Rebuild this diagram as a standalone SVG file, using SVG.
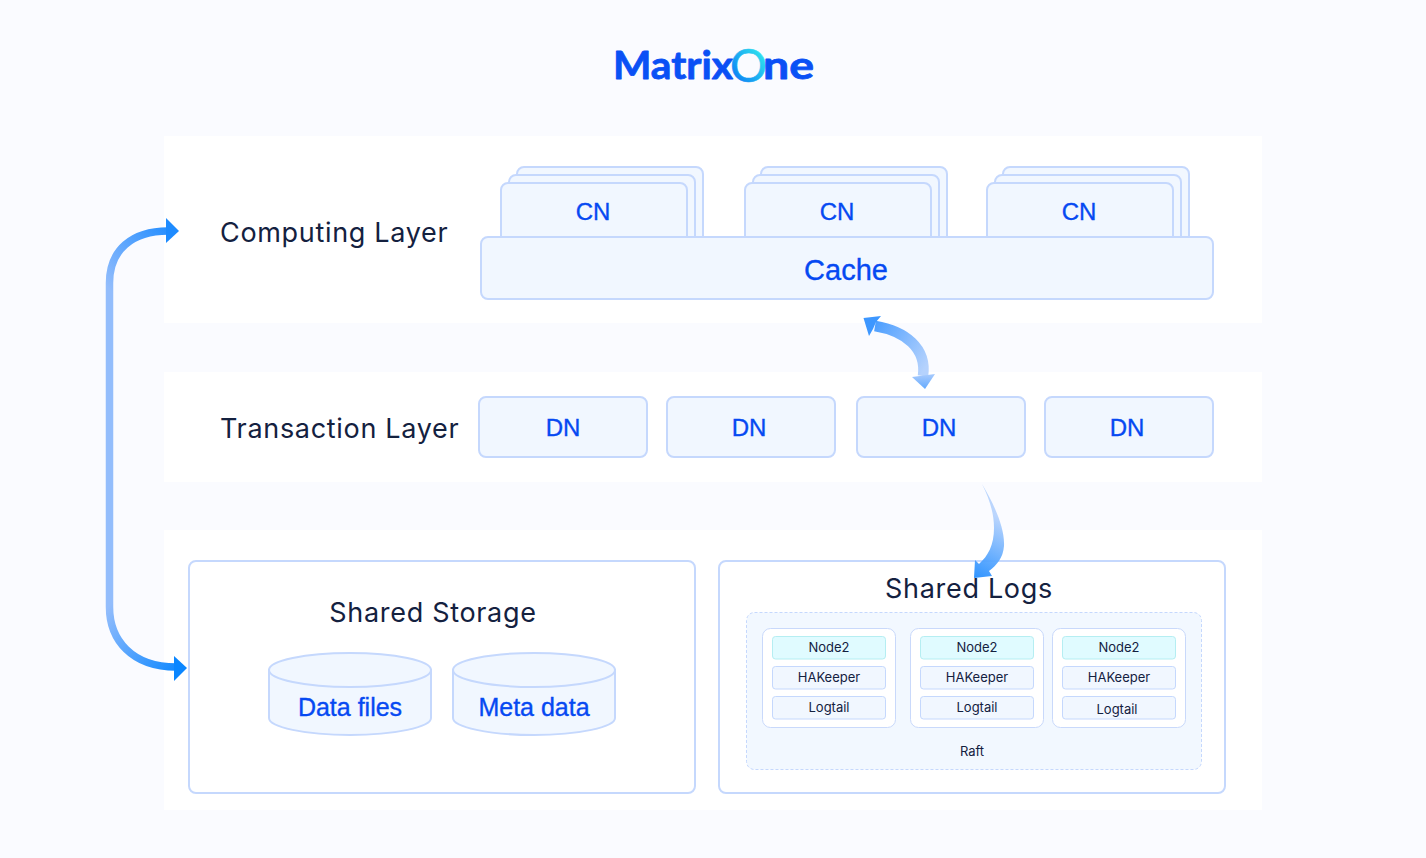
<svg xmlns="http://www.w3.org/2000/svg" width="1426" height="858" viewBox="0 0 1426 858">
<style>
.panel{fill:#fff}
.box{fill:#F1F7FF;stroke:#C5D8FD;stroke-width:2}
.frame{fill:#fff;stroke:#C5D8FD;stroke-width:2}
.card{fill:#fff;stroke:#C9D9FB;stroke-width:1}
.row{fill:#F1F7FF;stroke:#C5D8FD;stroke-width:1}
.cyan{fill:#E0FBFF;stroke:#B5EEF2;stroke-width:1}
.raft{fill:#F2F8FF;stroke:#C5D8FD;stroke-width:1;stroke-dasharray:3 2}
.t{font-family:"Liberation Sans",Arial,sans-serif;fill:#0649F2;stroke:#0649F2;stroke-width:.35px;text-anchor:middle}
.h{font-family:Inter,"Liberation Sans",sans-serif;fill:#14213F;font-size:27px;letter-spacing:.68px}
.s{font-family:Inter,"Liberation Sans",sans-serif;fill:#14213F;font-size:13px;text-anchor:middle}
.logo{font-family:Lato,"Liberation Sans",sans-serif;font-weight:700;font-size:39px;fill:#0A50F5;stroke:#0A50F5;stroke-width:.8;stroke-linejoin:round}
</style>
<defs>
<linearGradient id="lg" gradientUnits="userSpaceOnUse" x1="733" y1="80" x2="765" y2="55"><stop offset="0" stop-color="#0A7CF5"/><stop offset="1" stop-color="#2FE3EE"/></linearGradient>
<linearGradient id="a1" gradientUnits="userSpaceOnUse" x1="110" y1="290" x2="179" y2="231"><stop offset="0" stop-color="#93BDFC"/><stop offset="1" stop-color="#1E8BFF"/></linearGradient>
<linearGradient id="a2" gradientUnits="userSpaceOnUse" x1="110" y1="605" x2="187" y2="668"><stop offset="0" stop-color="#93BDFC"/><stop offset="1" stop-color="#0A86FF"/></linearGradient>
<linearGradient id="a3" gradientUnits="userSpaceOnUse" x1="866" y1="320" x2="930" y2="360"><stop offset="0" stop-color="#3D97FF"/><stop offset="1" stop-color="#B5D2FD"/></linearGradient>
<linearGradient id="a3b" gradientUnits="userSpaceOnUse" x1="924" y1="374" x2="924" y2="390"><stop offset="0" stop-color="#A9CBFD"/><stop offset="1" stop-color="#5FA8FE"/></linearGradient>
<linearGradient id="a4" gradientUnits="userSpaceOnUse" x1="975" y1="578" x2="1004" y2="520"><stop offset="0" stop-color="#1E8BFF"/><stop offset="1" stop-color="#B5D2FD"/></linearGradient>
</defs>
<rect width="1426" height="858" fill="#FAFBFF"/>
<g id="logo">
<text class="logo" x="613" y="79" textLength="120" lengthAdjust="spacingAndGlyphs">Matrix</text>
<text class="logo" x="730" y="82" textLength="37" lengthAdjust="spacingAndGlyphs" style="font-weight:400;font-size:46px;stroke-width:.6;fill:url(#lg);stroke:url(#lg)">O</text>
<text class="logo" x="763" y="79" textLength="51" lengthAdjust="spacingAndGlyphs">ne</text>
</g>
<g id="panels">
<rect class="panel" x="164" y="136" width="1098" height="187"/>
<rect class="panel" x="164" y="372" width="1098" height="110"/>
<rect class="panel" x="164" y="530" width="1098" height="280"/>
</g>
<g id="computing-layer"><text class="h" x="220" y="242">Computing Layer</text></g>
<g id="transaction-layer"><text class="h" x="220" y="438">Transaction Layer</text></g>
<g id="cn1">
<rect class="box" x="517" y="167" width="186" height="90" rx="7"/>
<rect class="box" x="509" y="175" width="186" height="82" rx="7"/>
<rect class="box" x="501" y="183" width="186" height="74" rx="7"/>
<text class="t" x="593" y="220" font-size="24">CN</text>
</g>
<g id="cn2">
<rect class="box" x="761" y="167" width="186" height="90" rx="7"/>
<rect class="box" x="753" y="175" width="186" height="82" rx="7"/>
<rect class="box" x="745" y="183" width="186" height="74" rx="7"/>
<text class="t" x="837" y="220" font-size="24">CN</text>
</g>
<g id="cn3">
<rect class="box" x="1003" y="167" width="186" height="90" rx="7"/>
<rect class="box" x="995" y="175" width="186" height="82" rx="7"/>
<rect class="box" x="987" y="183" width="186" height="74" rx="7"/>
<text class="t" x="1079" y="220" font-size="24">CN</text>
</g>
<g id="cache">
<rect class="box" x="481" y="237" width="732" height="62" rx="7"/>
<text class="t" x="846" y="280" font-size="29">Cache</text>
</g>
<g id="dn1"><rect class="box" x="479" y="397" width="168" height="60" rx="7"/><text class="t" x="563" y="436" font-size="24">DN</text></g>
<g id="dn2"><rect class="box" x="667" y="397" width="168" height="60" rx="7"/><text class="t" x="749" y="436" font-size="24">DN</text></g>
<g id="dn3"><rect class="box" x="857" y="397" width="168" height="60" rx="7"/><text class="t" x="939" y="436" font-size="24">DN</text></g>
<g id="dn4"><rect class="box" x="1045" y="397" width="168" height="60" rx="7"/><text class="t" x="1127" y="436" font-size="24">DN</text></g>
<g id="shared-storage">
<rect class="frame" x="189" y="561" width="506" height="232" rx="7"/>
<text class="h" x="433" y="622" text-anchor="middle">Shared Storage</text>
</g>
<g id="data-files">
<path class="box" d="M269 670V718C269 727 305 735 350 735S431 727 431 718V670Z"/>
<ellipse class="box" cx="350" cy="670" rx="81" ry="17"/>
<text class="t" x="350" y="716" font-size="25">Data files</text>
</g>
<g id="meta-data">
<path class="box" d="M453 670V718C453 727 489 735 534 735S615 727 615 718V670Z"/>
<ellipse class="box" cx="534" cy="670" rx="81" ry="17"/>
<text class="t" x="534" y="716" font-size="25">Meta data</text>
</g>
<g id="shared-logs">
<rect class="frame" x="719" y="561" width="506" height="232" rx="7"/>
<text class="h" x="969" y="598" text-anchor="middle">Shared Logs</text>
<rect class="raft" x="746.500" y="612.500" width="455" height="157" rx="8"/>
<text class="s" x="972" y="756">Raft</text>
</g>
<g id="group1">
<rect class="card" x="762.500" y="628.500" width="133" height="99" rx="8"/>
<rect class="cyan" x="772.500" y="636.500" width="113" height="22.500" rx="3"/><text class="s" x="829" y="652">Node2</text>
<rect class="row" x="772.500" y="666.500" width="113" height="22.500" rx="3"/><text class="s" x="829" y="682">HAKeeper</text>
<rect class="row" x="772.500" y="696.500" width="113" height="22.500" rx="3"/><text class="s" x="829" y="712">Logtail</text>
</g>
<g id="group2">
<rect class="card" x="910.500" y="628.500" width="133" height="99" rx="8"/>
<rect class="cyan" x="920.500" y="636.500" width="113" height="22.500" rx="3"/><text class="s" x="977" y="652">Node2</text>
<rect class="row" x="920.500" y="666.500" width="113" height="22.500" rx="3"/><text class="s" x="977" y="682">HAKeeper</text>
<rect class="row" x="920.500" y="696.500" width="113" height="22.500" rx="3"/><text class="s" x="977" y="712">Logtail</text>
</g>
<g id="group3">
<rect class="card" x="1052.500" y="628.500" width="133" height="99" rx="8"/>
<rect class="cyan" x="1062.500" y="636.500" width="113" height="22.500" rx="3"/><text class="s" x="1119" y="652">Node2</text>
<rect class="row" x="1062.500" y="666.500" width="113" height="22.500" rx="3"/><text class="s" x="1119" y="682">HAKeeper</text>
<rect class="row" x="1062.500" y="696.500" width="113" height="22.500" rx="3"/><text class="s" x="1117" y="714">Logtail</text>
</g>
<g id="connectors">
<path d="M109.500 450V283C109.500 250 132 231 168 231" fill="none" stroke="url(#a1)" stroke-width="7.500"/>
<path d="M166 218L179 231L166 243Z" fill="#1E8BFF"/>
<path d="M109.500 450V607C109.500 640 132 667 176 667" fill="none" stroke="url(#a2)" stroke-width="7.500"/>
<path d="M174 656L187 668L174 681Z" fill="#0A86FF"/>
<path d="M875 326C905 331 927 348 923 376" fill="none" stroke="url(#a3)" stroke-width="10.500"/>
<path d="M863.500 318L881 316L876 322L873 329L869 336Z" fill="#3D97FF"/>
<path d="M912 377L935 374L925 389Z" fill="url(#a3b)"/>
<path d="M982 484C994 504 1005 528 1004 546C1003 558 997 565 989 571L992 576L974 578L975 560L979 564C988 556 994 545 994 528C994 514 990 500 982 484Z" fill="url(#a4)" fill-opacity="0.92"/>
</g>
</svg>
